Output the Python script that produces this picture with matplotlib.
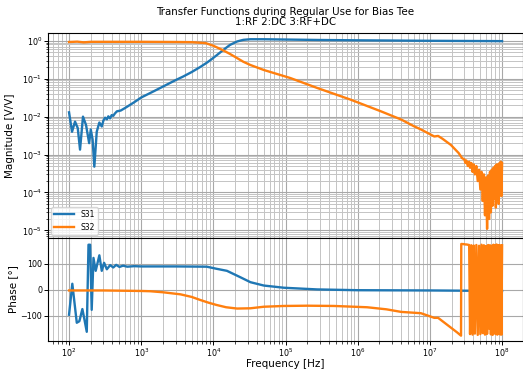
import numpy as np
import matplotlib
matplotlib.use("Agg")
from matplotlib import pyplot as plt

# S31 magnitude (blue)
f_s31_mag = [100, 110, 121, 132, 142, 156, 172, 190, 200, 212, 224, 242, 263,
             284, 300, 316, 335, 350, 370, 390, 410, 430, 460, 520, 600, 800,
             1000, 1500, 2000, 3000, 3840, 5000, 6600, 8000, 9100, 11000,
             13800, 17000, 21300, 26000, 32600, 50000, 1e5, 3e5, 1e6, 1e7, 1e8]
s31_mag = [0.013, 0.004, 0.0074, 0.005, 0.00135, 0.01, 0.006, 0.002, 0.0046,
           0.0025, 0.00048, 0.004, 0.007, 0.0055, 0.008, 0.0094, 0.0085, 0.0102,
           0.009, 0.011, 0.0105, 0.012, 0.0138, 0.0145, 0.017, 0.024,
           0.032, 0.047, 0.062, 0.092, 0.115, 0.15, 0.205, 0.26, 0.31, 0.41,
           0.58, 0.78, 0.96, 1.06, 1.1, 1.1, 1.08, 1.05, 1.03, 1.0, 0.98]

# S32 magnitude (orange), smooth part
f_s32_mag = [100, 130, 160, 200, 300, 1000, 3000, 5000, 7800, 10000, 13200,
             17000, 21300, 26000, 32600, 50000, 117000, 275000, 8e5, 2.1e6,
             4e6, 6e6, 7.5e6, 1.15e7, 1.3e7, 1.5e7, 1.95e7, 2.5e7, 2.8e7]
s32_mag = [0.93, 0.95, 0.91, 0.94, 0.94, 0.94, 0.93, 0.92, 0.87, 0.74, 0.58,
           0.45, 0.35, 0.28, 0.23, 0.17, 0.104, 0.057, 0.028, 0.0138,
           0.0084, 0.0056, 0.0046, 0.003, 0.0031, 0.0026, 0.0018, 0.0011, 8e-4]

# noisy high frequency region of S32
f_hf = [3.0e7, 3.1e7, 3.2e7, 3.35e7, 3.5e7, 3.6e7, 3.75e7, 3.9e7, 4.05e7,
        4.2e7, 4.4e7, 4.6e7, 4.8e7, 5.0e7, 5.2e7, 5.4e7, 5.6e7, 5.8e7, 6.0e7,
        6.2e7, 6.4e7, 6.6e7, 6.8e7, 7.0e7, 7.2e7, 7.4e7, 7.6e7, 7.8e7, 8.0e7,
        8.2e7, 8.4e7, 8.6e7, 8.8e7, 9.0e7, 9.2e7, 9.4e7, 9.6e7, 9.8e7, 1.0e8]
s32_mag_hf = [7.5e-4, 6e-4, 7e-4, 5e-4, 6.5e-4, 4.5e-4, 6e-4, 3.5e-4, 5.5e-4,
              3e-4, 5e-4, 2e-4, 4e-4, 1.2e-4, 3.5e-4, 6e-5, 3e-4, 2.5e-5, 2.5e-4,
              1.1e-5, 2.8e-4, 2e-5, 3.5e-4, 3e-5, 4e-4, 4.5e-5, 4.5e-4, 7e-5, 5e-4,
              4e-5, 5.5e-4, 9e-5, 5.5e-4, 5e-5, 6e-4, 1e-4, 6.5e-4, 8e-5, 6e-4]
s32_ph_hf = [176, 175, 175, 174, 173, -172, 172, -174, 171,
             -170, 173, -175, 170, -172, 174, -168, 172, -174, 169,
             -171, 173, -150, 172, -173, 170, -175, 174, -169, 172,
             -172, 175, -174, 171, -170, 173, -173, 170, -174, 172]

# S31 phase (blue)
f_s31_ph = [100, 111, 128, 139, 153, 162, 176, 186, 196, 206, 218, 234, 263,
            284, 306, 334, 371, 410, 450, 500, 560, 640, 800, 1000, 3000, 8100,
            11000, 15400, 23700, 32600, 50000, 95000, 2.75e5, 1e6, 1e7, 1e8]
s31_ph = [-97, 23, -128, -122, -75, -110, -163, 174, 174, -78, 123, 73, 133,
          73, 104, 79, 95, 86, 96, 88, 93, 89, 91, 90, 90, 89,
          81, 73, 48, 29, 16, 7.5, 1, -2, -3, -5]

# S32 phase (orange), smooth part
f_s32_ph = [100, 300, 1000, 1334, 2000, 3500, 5000, 6600, 8500, 11000, 15000,
            21300, 32600, 50000, 95000, 2e5, 4.7e5, 1.35e6, 2.5e6, 4e6, 7.5e6,
            1.15e7, 1.3e7, 2.4e7, 2.7e7, 2.72e7]
s32_ph = [-3, -3, -5, -6, -10, -18, -28, -40, -50, -59, -68,
          -73, -72, -66, -63, -62, -63, -68, -76, -86, -91,
          -109, -109, -166, -178, 177]

fig = plt.figure(figsize=(5.23, 3.69), dpi=100)
gs = fig.add_gridspec(2, 1, height_ratios=[2, 1], hspace=0,
                      left=0.092, right=1.0, top=0.911, bottom=0.077)
ax1 = fig.add_subplot(gs[0])
ax2 = fig.add_subplot(gs[1], sharex=ax1)

lw = 1.7
ax1.loglog(f_s31_mag, s31_mag, color="tab:blue", lw=lw, label="S31")
ax1.loglog(f_s32_mag + f_hf, s32_mag + s32_mag_hf, color="tab:orange", lw=lw,
           label="S32")
ax2.semilogx(f_s31_ph, s31_ph, color="tab:blue", lw=lw)
ax2.semilogx(f_s32_ph + f_hf, s32_ph + s32_ph_hf, color="tab:orange", lw=lw)

ax1.set_xlim(10**1.71, 10**8.29)
ax1.set_ylim(10**-5.2, 10**0.21)
ax2.set_ylim(-197, 200)
ax2.set_yticks([-100, 0, 100])

for ax in (ax1, ax2):
    ax.grid(True, which="major", color="#a8a8a8", lw=0.8)
    ax.grid(True, which="minor", color="#c4c4c4", lw=0.7)
    ax.tick_params(labelsize=5.8, length=3, width=0.7, pad=1.2)
    ax.tick_params(which="minor", length=1.8, width=0.5)

plt.setp(ax1.get_xticklabels(), visible=False)

ax1.set_title("Transfer Functions during Regular Use for Bias Tee\n1:RF 2:DC 3:RF+DC",
              fontsize=7.4, linespacing=1.0, pad=6)
ax1.set_ylabel("Magnitude [V/V]", fontsize=7.5, labelpad=5)
ax2.set_ylabel("Phase [°]", fontsize=7.5, labelpad=2)
ax2.set_xlabel("Frequency [Hz]", fontsize=7.5, labelpad=0)
ax1.legend(loc="lower left", fontsize=5.5, handlelength=2.6, borderaxespad=0.4)

fig.savefig("out.png", dpi=100)
